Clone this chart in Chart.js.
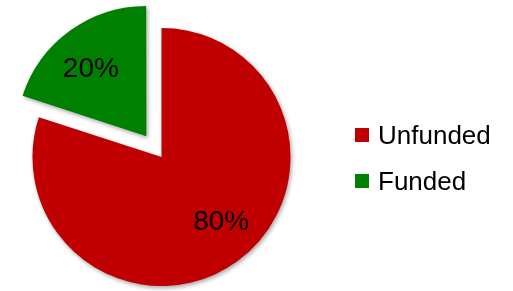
<!DOCTYPE html>
<html>
<head>
<meta charset="utf-8">
<script src="https://cdn.jsdelivr.net/npm/chart.js@4.4.1/dist/chart.umd.min.js"></script>
<style>
  html, body { margin: 0; padding: 0; background: #ffffff; }
  #wrap { position: relative; width: 513px; height: 291px; }
  canvas { display: block; }
</style>
</head>
<body>
<div id="wrap"><canvas id="c" width="513" height="291"></canvas></div>
<script>
// ---- data ----
const categories = ["Unfunded", "Funded"];
const values = [80, 20];
const percentLabels = ["80%", "20%"];
const colors = ["#C00000", "#008000"];

// ---- label plugin (percent text inside slices) ----
const sliceLabels = {
  id: 'sliceLabels',
  afterDatasetsDraw(chart, args, opts) {
    const ctx = chart.ctx;
    const meta = chart.getDatasetMeta(0);
    ctx.save();
    ctx.font = opts.font;
    ctx.fillStyle = opts.color;
    ctx.textAlign = 'center';
    ctx.textBaseline = 'alphabetic';
    meta.data.forEach((arc, i) => {
      const p = arc.getProps(['x', 'y', 'startAngle', 'endAngle', 'outerRadius', 'circumference']);
      const mid = (p.startAngle + p.endAngle) / 2;
      const off = (arc.options.offset || 0) / 4;
      const fix = 1 - Math.sin(Math.min(Math.PI, p.circumference || 0));
      const t = off * (1 + fix);
      const cx = p.x + Math.cos(mid) * t;
      const cy = p.y + Math.sin(mid) * t;
      const a = mid + (opts.angleShift[i] || 0) * Math.PI / 180;
      const r = p.outerRadius * opts.radiusFrac;
      ctx.fillText(percentLabels[i], cx + Math.cos(a) * r, cy + Math.sin(a) * r + opts.capHalf);
    });
    ctx.restore();
  }
};

// ---- legend plugin ----
const sideLegend = {
  id: 'sideLegend',
  afterDraw(chart, args, opts) {
    const ctx = chart.ctx;
    ctx.save();
    ctx.font = opts.font;
    ctx.textAlign = 'left';
    ctx.textBaseline = 'alphabetic';
    categories.forEach((name, i) => {
      const y = opts.top + i * opts.rowGap;
      ctx.fillStyle = colors[i];
      ctx.fillRect(opts.boxX, y - opts.box / 2, opts.box, opts.box);
      ctx.fillStyle = opts.color;
      ctx.fillText(name, opts.textX, y + opts.capHalf);
    });
    ctx.restore();
  }
};

// ---- shadow plugin ----
const sliceShadow = {
  id: 'sliceShadow',
  beforeDatasetsDraw(chart) {
    const ctx = chart.ctx;
    ctx.save();
    ctx.shadowColor = 'rgba(0,0,0,0.35)';
    ctx.shadowBlur = 4;
    ctx.shadowOffsetX = 1.5;
    ctx.shadowOffsetY = 2;
  },
  afterDatasetsDraw(chart) {
    chart.ctx.restore();
  }
};

new Chart(document.getElementById('c'), {
  type: 'pie',
  data: {
    labels: categories,
    datasets: [{
      data: values,
      backgroundColor: colors,
      borderWidth: 0,
      offset: [0, 103],
      hoverOffset: 0
    }]
  },
  options: {
    responsive: false,
    animation: false,
    events: [],
    radius: 129,
    layout: { padding: { left: 0, right: 190, top: 23, bottom: 0 } },
    plugins: {
      legend: { display: false },
      tooltip: { enabled: false },
      sliceLabels: {
        font: '28px "Liberation Sans", Arial, sans-serif',
        color: '#000000',
        radiusFrac: 0.675,
        angleShift: [-7.3, -3],
        capHalf: 10
      },
      sideLegend: {
        font: '26px "Liberation Sans", Arial, sans-serif',
        color: '#000000',
        boxX: 355,
        box: 14,
        textX: 378,
        top: 135,
        rowGap: 46,
        capHalf: 9.3
      }
    }
  },
  plugins: [sliceShadow, sliceLabels, sideLegend]
});
</script>
</body>
</html>
